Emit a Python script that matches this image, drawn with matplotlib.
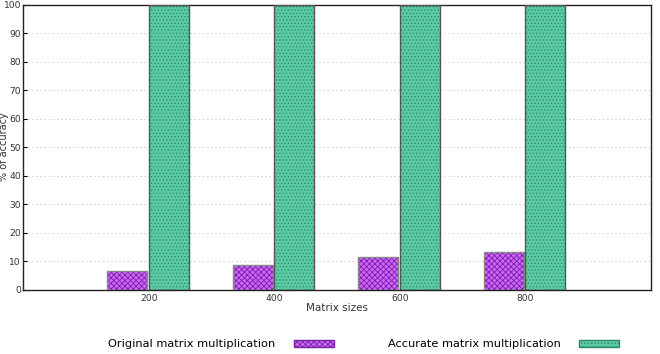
import numpy as np
import matplotlib.pyplot as plt
import matplotlib.patches as mpatches

sizes = ['200', '400', '600', '800']
original = [6.7, 8.7, 11.6, 13.3]
accurate = [100, 100, 100, 100]

plt.rcParams['hatch.linewidth'] = 0.6

fig = plt.figure(figsize=(6.6, 3.54), dpi=100)
ax = fig.add_axes([0.035, 0.181, 0.951, 0.805])

x = np.arange(1, len(sizes) + 1)
w = 0.32

# purple bars (original)
ax.bar(x - 0.01 - w / 2, original, w, color='#cc66ff', edgecolor='#7a1fa0',
       hatch='xxxxxx', linewidth=0, zorder=2)
ax.bar(x - 0.01 - w / 2, original, w, fill=False, edgecolor='#888888',
       linewidth=1, zorder=3)
# green bars (accurate)
ax.bar(x + w / 2, accurate, w, color='#5ccca6', edgecolor='#2f8a6c',
       hatch='.....', linewidth=0, zorder=2)
ax.bar(x + w / 2, accurate, w, fill=False, edgecolor='#555555',
       linewidth=1, zorder=3)

ax.set_xlim(0, 5)
ax.set_ylim(0, 100)
ax.set_xticks(x)
ax.set_xticklabels(sizes)
ax.set_yticks(range(0, 101, 10))
ax.tick_params(labelsize=6.6, length=3, direction='in', pad=1.5, labelcolor='#333333')
ax.tick_params(axis='x', length=0, pad=3)
ax.grid(axis='y', linestyle=(0, (2, 3)), color='#cccccc', linewidth=0.6, zorder=0)
for s in ax.spines.values():
    s.set_linewidth(1)
    s.set_color('#222222')
ax.set_xlabel('Matrix sizes', fontsize=7.5, labelpad=0, color='#333333')
fig.text(0.0065, 0.585, '% of accuracy', rotation=90, fontsize=7,
         color='#333333', ha='center', va='center')

h1 = mpatches.Patch(facecolor='#cc66ff', edgecolor='#7a1fa0', hatch='xxxxxx')
h2 = mpatches.Patch(facecolor='#5ccca6', edgecolor='#2f8a6c', hatch='.....')
fig.legend([h1, h2], ['Original matrix multiplication', 'Accurate matrix multiplication'],
           loc='center', bbox_to_anchor=(0.551, 0.027), ncol=2, frameon=False,
           markerfirst=False, fontsize=8.2, handlelength=3.5, handleheight=0.6,
           columnspacing=4.8, handletextpad=1.6)

fig.savefig('out.png', dpi=100)
